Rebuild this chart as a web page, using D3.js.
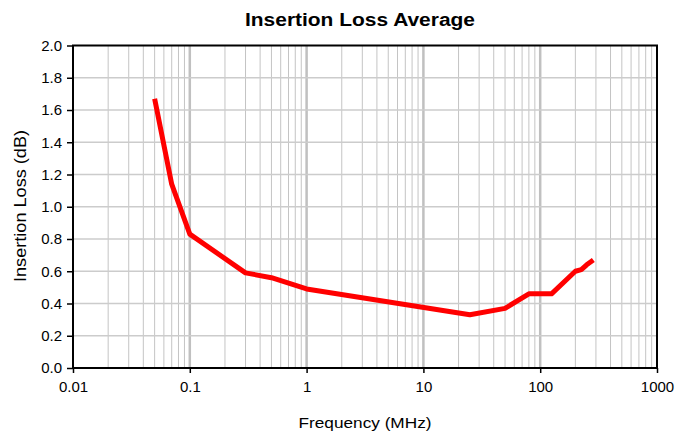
<!DOCTYPE html>
<html>
<head>
<meta charset="utf-8">
<script src="https://cdn.jsdelivr.net/npm/d3@7"></script>
<style>
  body { margin: 0; background: #fff; }
  text { font-family: "Liberation Sans", Arial, sans-serif; fill: #000; }
</style>
</head>
<body>
<svg id="chart"></svg>
<script>
// Data
const frequencies = [0.05, 0.07, 0.1, 0.3, 0.5, 1, 25, 50, 80, 125, 200, 225, 250, 285];
const lossValues = [1.67, 1.14, 0.83, 0.59, 0.56, 0.49, 0.33, 0.37, 0.46, 0.46, 0.60, 0.61, 0.64, 0.67];
const xTickLabels = ["0.01", "0.1", "1", "10", "100", "1000"];
const yTickValues = [0, 0.2, 0.4, 0.6, 0.8, 1.0, 1.2, 1.4, 1.6, 1.8, 2.0];

const width = 677;
const height = 437;
const margin = { top: 45.5, right: 20, bottom: 69, left: 73 };

const svg = d3.select("#chart").attr("width", width).attr("height", height);

const x = d3.scaleLog()
  .domain([0.01, 1000])
  .range([margin.left, width - margin.right]);
const y = d3.scaleLinear()
  .domain([0, 2])
  .range([height - margin.bottom, margin.top]);

const [x0, x1] = x.range();
const [yb, yt] = y.range();

// Vertical grid lines (minor and decade lines)
const minorTicks = [];
const majorTicks = [];
for (let e = -2; e < 3; e++) {
  for (let m = 1; m < 10; m++) {
    const v = m * Math.pow(10, e);
    if (m === 1) { if (e > -2) majorTicks.push(v); }
    else minorTicks.push(v);
  }
}

svg.append("g")
  .selectAll("line")
  .data(minorTicks)
  .enter()
  .append("line")
  .attr("x1", (d) => x(d))
  .attr("x2", (d) => x(d))
  .attr("y1", yt)
  .attr("y2", yb)
  .style("stroke", "#c4c4c4")
  .style("stroke-width", "1px");

svg.append("g")
  .selectAll("line")
  .data(majorTicks)
  .enter()
  .append("line")
  .attr("x1", (d) => x(d))
  .attr("x2", (d) => x(d))
  .attr("y1", yt)
  .attr("y2", yb)
  .style("stroke", "#c0c0c0")
  .style("stroke-width", "2.5px");

// Horizontal grid lines
svg.append("g")
  .selectAll("line")
  .data(yTickValues.slice(1, -1))
  .enter()
  .append("line")
  .attr("x1", x0)
  .attr("x2", x1)
  .attr("y1", (d) => y(d))
  .attr("y2", (d) => y(d))
  .style("stroke", "#cccccc")
  .style("stroke-width", "1.5px");

// Plot frame
svg.append("rect")
  .attr("x", x0)
  .attr("y", yt)
  .attr("width", x1 - x0)
  .attr("height", yb - yt)
  .style("fill", "none")
  .style("stroke", "#000")
  .style("stroke-width", "2px");

// Axes
const yAxis = d3.axisLeft(y)
  .tickValues(yTickValues)
  .tickFormat(d3.format(".1f"))
  .tickSize(6)
  .tickPadding(5);
const gy = svg.append("g").attr("transform", `translate(${x0},0)`).call(yAxis);

const xAxis = d3.axisBottom(x)
  .tickValues(xTickLabels.map(Number))
  .tickFormat((d, i) => xTickLabels[i])
  .tickSize(5)
  .tickPadding(8);
const gx = svg.append("g").attr("transform", `translate(0,${yb})`).call(xAxis);

[gx, gy].forEach((g) => {
  g.select(".domain").remove();
  g.selectAll(".tick line").style("stroke", "#000").style("stroke-width", "1.5px");
  g.selectAll(".tick text")
    .style("font-size", "15px")
    .style("font-family", '"Liberation Sans", Arial, sans-serif')
    .style("fill", "#000");
});

// Data line
const line = d3.line()
  .x((d, i) => x(frequencies[i]))
  .y((d) => y(d));

svg.append("path")
  .datum(lossValues)
  .attr("d", line)
  .style("fill", "none")
  .style("stroke", "#ff0000")
  .style("stroke-width", "5px")
  .style("stroke-linejoin", "round")
  .style("stroke-linecap", "butt");

// Titles
svg.append("text")
  .attr("x", 360)
  .attr("y", 26)
  .attr("text-anchor", "middle")
  .attr("textLength", 230)
  .attr("lengthAdjust", "spacingAndGlyphs")
  .style("font-size", "18px")
  .style("font-weight", "bold")
  .text("Insertion Loss Average");

svg.append("text")
  .attr("x", 365)
  .attr("y", 428)
  .attr("text-anchor", "middle")
  .attr("textLength", 133)
  .attr("lengthAdjust", "spacingAndGlyphs")
  .style("font-size", "15.5px")
  .text("Frequency (MHz)");

svg.append("text")
  .attr("transform", `translate(26,206) rotate(-90)`)
  .attr("text-anchor", "middle")
  .attr("textLength", 152)
  .attr("lengthAdjust", "spacingAndGlyphs")
  .style("font-size", "16px")
  .text("Insertion Loss (dB)");
</script>
</body>
</html>
